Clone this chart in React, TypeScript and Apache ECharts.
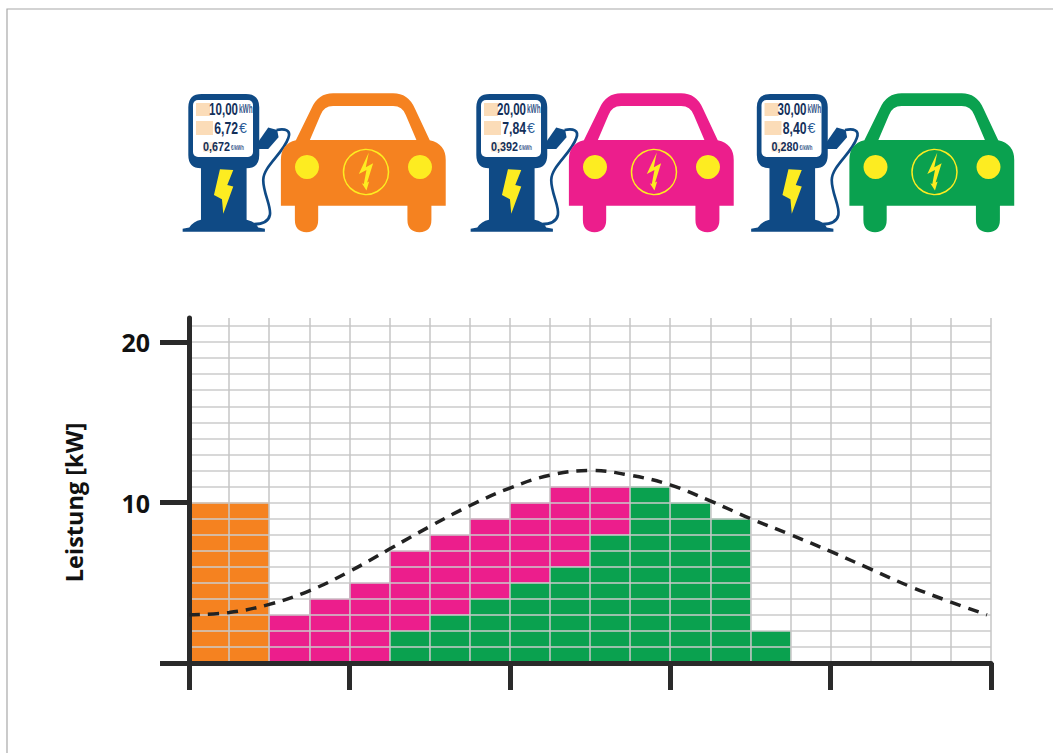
import React, { useEffect, useRef } from "react";
import * as echarts from "echarts";

// ---- data ----
const cells = ["0","1","2","3","4","5","6","7","8","9","10","11","12","13","14","15","16","17","18","19"];
const orangeValues = [10, 10, 0, 0, 0, 0, 0, 0, 0, 0, 0, 0, 0, 0, 0, 0, 0, 0, 0, 0];
const magentaValues = [0, 0, 3, 4, 5, 5, 5, 5, 5, 5, 3, 0, 0, 0, 0, 0, 0, 0, 0, 0];
const greenValues = [0, 0, 0, 0, 0, 2, 3, 4, 5, 6, 8, 11, 10, 9, 2, 0, 0, 0, 0, 0];
const curveX = [0, 1, 2, 3, 4, 5, 6, 7, 8, 9, 10, 11, 12, 13, 14, 15, 16, 17, 18, 19, 19.9];
const curveY = [3, 3.15, 3.65, 4.5, 5.7, 7.1, 8.5, 9.8, 10.9, 11.7, 12, 11.7, 11.1, 10.1, 9, 8, 6.95, 5.85, 4.75, 3.8, 3];
const xTicks = [0, 4, 8, 12, 16, 20];
const yTicks = [0, 10, 20];
const yTickLabels = [10, 20];
const yName = "Leistung [kW]";
const energyTexts = ["10,00", "20,00", "30,00"];
const costTexts = ["6,72", "7,84", "8,40"];
const rateTexts = ["0,672", "0,392", "0,280"];
const carColors = ["#f58220", "#ec1e8c", "#0aa14f"];
const iconOffsets = [0, 288, 568.5];

// ---- styling ----
const NAVY = "#0f4a85";
const YELLOW = "#fdec21";
const AXIS = "#2a2a2a";
const NARROW = '"Liberation Sans", sans-serif';
const LABEL = '"Open Sans", sans-serif';

const SHAPES: Record<string, string> = {
  carBody:
    "M333 378L333 240Q333 192 378 181L425 85Q445 40 490 40L670 40Q715 40 735 85L780 181Q828 192 828 240L828 378L785 378L785 420Q785 457 749 457Q713 457 713 420L713 378L445 378L445 420Q445 457 410 457Q375 457 375 420L375 378Z",
  carWindow: "M420 180L452 105Q462 78 490 78L670 78Q698 78 708 105L740 180Z",
  carBolt: "M597 218L567 282L590 270L582 312L576 310L590 332L598 305L592 308L610 250L588 262Z",
  pumpBody:
    "M95 42L228 42Q268 42 268 82L268 225Q268 265 230 265L230 420Q255 425 265 443L285 447L285 456L38 456L38 447L58 443Q70 425 93 420L93 265Q55 265 55 225L55 82Q55 42 95 42Z",
  pumpBolt: "M150 268L190 270L172 315L190 320L160 402L156 358L132 345Z",
  pumpPlug: "M262 190L295 143L322 150L326 172L295 207L262 207Z",
  pumpCable: "M320 150C345 145 365 150 355 175C340 220 280 260 280 300C280 340 305 380 300 405C295 430 265 435 235 432",
};
Object.keys(SHAPES).forEach((k) => {
  echarts.graphic.registerShape(k, echarts.graphic.extendPath(SHAPES[k], {}) as any);
});

const S = 1 / 3;
function shape(type: string, style: any) {
  return { type, x: 0, y: 0, scaleX: S, scaleY: S, style };
}
function txt(text: string, x: number, y: number, size: number, sx: number, fill: string, align = "right", weight = "bold") {
  return {
    type: "text",
    x,
    y,
    scaleX: sx,
    style: { text, fill, font: `${weight} ${size}px ${NARROW}`, textAlign: align, textVerticalAlign: "middle" },
  };
}

function icon(i: number) {
  const c = carColors[i];
  const ghost = "#fbdcb8";
  const ink = "#14305a";
  return {
    type: "group",
    x: 170 + iconOffsets[i],
    y: 80,
    children: [
      shape("pumpCable", { fill: "none", stroke: NAVY, lineWidth: 8 }),
      shape("pumpPlug", { fill: NAVY }),
      shape("pumpBody", { fill: NAVY }),
      { type: "rect", shape: { x: 23, y: 20, width: 60, height: 57, r: 5 }, style: { fill: "#ffffff" } },
      { type: "rect", shape: { x: 26, y: 23, width: 14, height: 13 }, style: { fill: ghost } },
      { type: "rect", shape: { x: 26, y: 41, width: 17, height: 14 }, style: { fill: ghost } },
      { type: "rect", shape: { x: 33, y: 62, width: 14, height: 10 }, style: { fill: "#fdeedd" } },
      txt(energyTexts[i], 68, 29, 17, 0.68, ink),
      txt("kWh", 69, 29, 13, 0.5, "#3a5a8c", "left"),
      txt(costTexts[i], 68, 48, 17, 0.72, ink),
      txt("€", 69, 48, 15, 0.95, "#2a5a96", "left", "normal"),
      txt(rateTexts[i], 60, 67, 13, 0.83, ink),
      txt("€/kWh", 61, 67, 8, 0.55, "#3a5a8c", "left"),
      shape("pumpBolt", { fill: YELLOW }),
      shape("carBody", { fill: c }),
      shape("carWindow", { fill: "#ffffff" }),
      { type: "circle", shape: { cx: 137, cy: 87, r: 12 }, style: { fill: YELLOW } },
      { type: "circle", shape: { cx: 250, cy: 87, r: 12 }, style: { fill: YELLOW } },
      { type: "circle", shape: { cx: 196, cy: 92, r: 22.5 }, style: { fill: "none", stroke: YELLOW, lineWidth: 1.5 } },
      shape("carBolt", { fill: YELLOW }),
    ],
  };
}

export default function App() {
  const ref = useRef<HTMLDivElement>(null);
  useEffect(() => {
    const chart = echarts.init(ref.current!, undefined, { renderer: "svg" });
    const bar = (name: string, data: number[], color: string) => ({
      name,
      type: "bar",
      stack: "power",
      xAxisIndex: 1,
      yAxisIndex: 0,
      barWidth: "100%",
      barGap: 0,
      data,
      itemStyle: { color },
      z: 2,
    });
    chart.setOption({
      animation: false,
      backgroundColor: "#ffffff",
      grid: { left: 189, top: 318, width: 802, height: 345, containLabel: false },
      xAxis: [
        {
          // grid lines, one per cell
          type: "value",
          min: 0,
          max: 20,
          interval: 1,
          z: 5,
          axisLine: { show: false },
          axisTick: { show: false },
          axisLabel: { show: false },
          splitLine: { show: true, showMinLine: false, lineStyle: { color: "#c6c6c6", width: 1.5 } },
        },
        { type: "category", data: cells, show: false, boundaryGap: true },
        {
          // visible axis
          type: "value",
          min: 0,
          max: 20,
          interval: 4,
          position: "bottom",
          z: 6,
          axisLine: { show: true, onZero: false, lineStyle: { color: AXIS, width: 5 } },
          axisTick: { show: true, customValues: xTicks, length: 27, lineStyle: { color: AXIS, width: 5 } },
          axisLabel: { show: false },
          splitLine: { show: false },
        },
      ],
      yAxis: [
        {
          // grid lines, one per kW
          type: "value",
          min: 0,
          max: 21.5,
          interval: 1,
          z: 5,
          axisLine: { show: false },
          axisTick: { show: false },
          axisLabel: { show: false },
          splitLine: { show: true, showMinLine: false, showMaxLine: false, lineStyle: { color: "#cbcbcb", width: 1.5 } },
        },
        {
          // visible axis
          type: "value",
          min: 0,
          max: 21.5,
          position: "left",
          z: 6,
          name: yName,
          nameLocation: "middle",
          nameRotate: 90,
          nameGap: 103,
          nameTextStyle: { fontFamily: LABEL, fontWeight: "bold", fontSize: 23.5, color: "#111111", padding: [0, 24, 0, 0] },
          axisLine: { show: true, onZero: false, lineStyle: { color: AXIS, width: 5 } },
          axisTick: { show: true, customValues: yTicks, length: 29, lineStyle: { color: AXIS, width: 5 } },
          axisLabel: {
            show: true,
            customValues: yTickLabels,
            margin: 39,
            fontFamily: LABEL,
            fontWeight: "bold",
            fontSize: 25,
            color: "#111111",
          },
          splitLine: { show: false },
        },
      ],
      series: [
        bar("Auto 3", greenValues, carColors[2]),
        bar("Auto 2", magentaValues, carColors[1]),
        bar("Auto 1", orangeValues, carColors[0]),
        {
          name: "Last",
          type: "line",
          xAxisIndex: 0,
          yAxisIndex: 0,
          smooth: 0.4,
          symbol: "none",
          z: 10,
          lineStyle: { color: "#222222", width: 3.5, type: [11, 8] },
          data: curveX.map((x, i) => [x, curveY[i]]),
        },
      ],
      graphic: [
        { type: "polyline", shape: { points: [[7, 753], [7, 9], [1053, 9]] }, style: { fill: "none", stroke: "#a8a8a8", lineWidth: 1.2 } },
        icon(0),
        icon(1),
        icon(2),
      ],
    });
    return () => chart.dispose();
  }, []);
  return <div ref={ref} style={{ position: "absolute", left: 0, top: 0, width: 1053, height: 753 }} />;
}
